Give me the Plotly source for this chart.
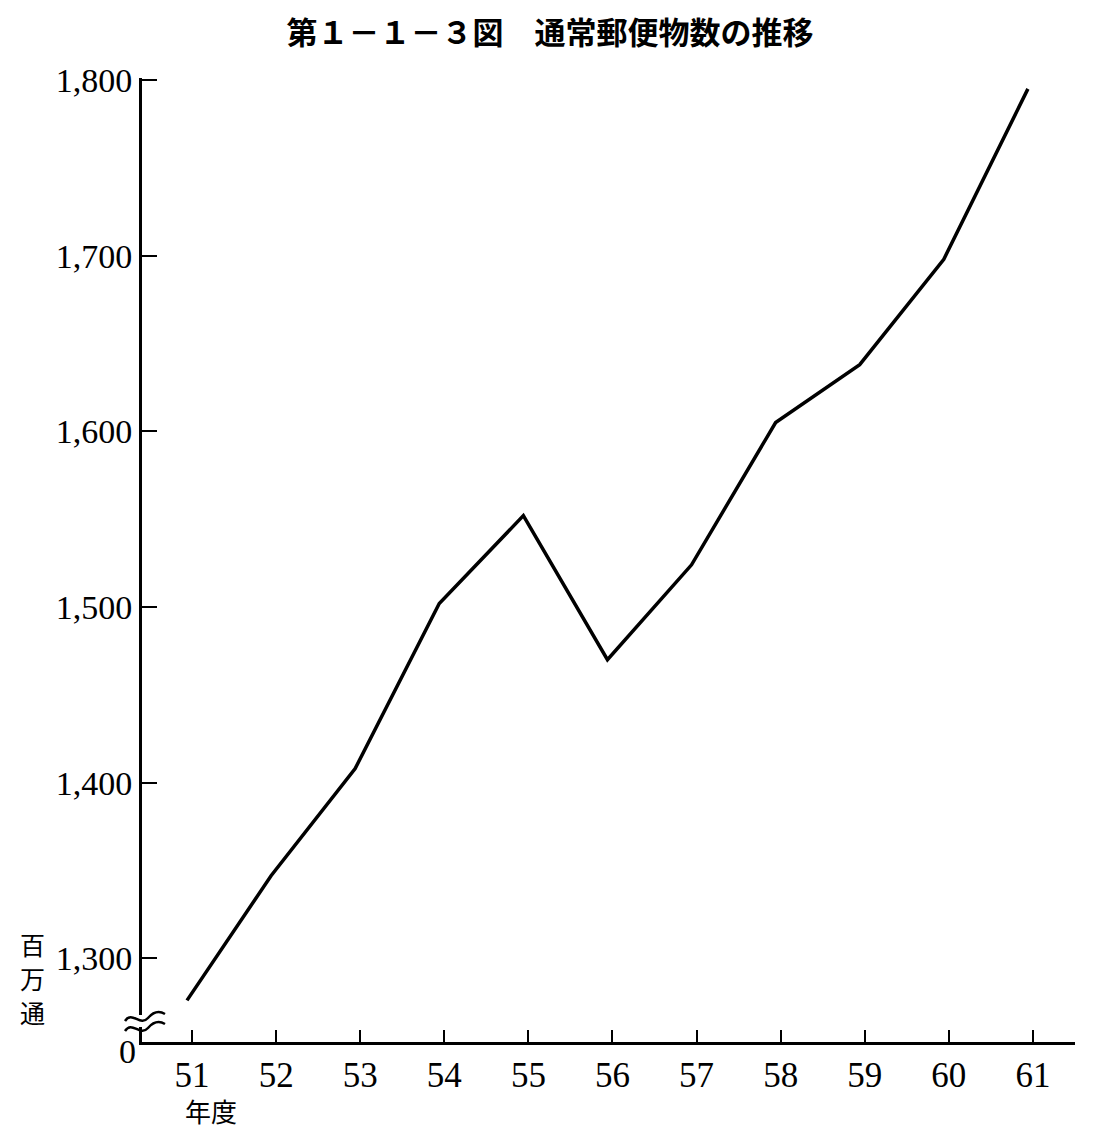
import plotly.graph_objects as go

years = [51, 52, 53, 54, 55, 56, 57, 58, 59, 60, 61]
year_labels = ["51", "52", "53", "54", "55", "56", "57", "58", "59", "60", "61"]
mail_millions = [1276, 1347, 1408, 1502, 1552, 1470, 1524, 1605, 1638, 1698, 1795]
y_ticks = [1300, 1400, 1500, 1600, 1700, 1800]
y_tick_labels = ["1,300", "1,400", "1,500", "1,600", "1,700", "1,800"]
unit_chars = ["百", "万", "通"]

OFF = 8  # page body margin
W, H = 1105 - 2 * OFF, 1141 - 2 * OFF
L, T = 142 - OFF, 78 - OFF
R = W - (1075 - OFF)
B = H - (1042 - OFF)
PW, PH = W - L - R, H - T - B

def px(x):
    return (x - OFF - L) / PW

def py(y):
    return (H - B - (y - OFF)) / PH

fig = go.Figure()
# data line: points sit slightly left of the tick positions
fig.add_trace(go.Scatter(
    x=[v - 0.06 for v in years], y=mail_millions, mode="lines",
    line=dict(color="black", width=3.5), hoverinfo="skip", showlegend=False))

serif = "Liberation Serif, Times New Roman, serif"
cjk = "Noto Sans CJK JP, sans-serif"

fig.update_layout(
    width=W, height=H,
    margin=dict(l=L, r=R, t=T, b=B),
    paper_bgcolor="white", plot_bgcolor="white",
    xaxis=dict(range=[50.405, 61.5], tickvals=years, ticktext=year_labels,
               ticks="inside", ticklen=12, tickwidth=2, tickcolor="black",
               showline=True, linecolor="black", linewidth=3,
               showgrid=False, zeroline=False,
               tickfont=dict(family=serif, size=35, color="black")),
    yaxis=dict(range=[1252.3, 1801.2], tickvals=y_ticks, ticktext=y_tick_labels,
               ticks="inside", ticklen=15, tickwidth=2, tickcolor="black",
               showline=True, linecolor="black", linewidth=3,
               showgrid=False, zeroline=False,
               tickfont=dict(family=serif, size=34, color="black")),
    title=dict(text="第１－１－３図　通常郵便物数の推移", x=(550 - OFF) / W, xanchor="center",
               xref="container", yref="container",
               y=1 - (33 - OFF) / H, yanchor="middle",
               font=dict(family=cjk, size=31, color="black", weight="bold")),
)

# axis break symbol (two wavy lines) with a white gap in the axis
fig.add_shape(type="rect", xref="paper", yref="paper",
              x0=px(136), x1=px(150), y0=py(1027), y1=py(1015),
              fillcolor="white", line=dict(width=0), layer="above")
for dy in (0, 10):
    y0 = 1018 + dy
    path = (f"M {px(125)},{py(y0 + 3)} "
            f"C {px(132)},{py(y0 - 8)} {px(140)},{py(y0 + 9)} {px(148)},{py(y0)} "
            f"C {px(154)},{py(y0 - 7)} {px(160)},{py(y0 - 7)} {px(165)},{py(y0 - 4)}")
    fig.add_shape(type="path", path=path, xref="paper", yref="paper",
                  line=dict(color="black", width=2.5), layer="above")

fig.add_annotation(text="0", xref="paper", yref="paper", x=px(127), y=py(1051),
                   showarrow=False, xanchor="center", yanchor="middle",
                   font=dict(family=serif, size=34, color="black"))
for i, ch in enumerate(unit_chars):
    fig.add_annotation(text=ch, xref="paper", yref="paper", x=px(32), y=py(944 + 34 * i),
                       showarrow=False, xanchor="center", yanchor="middle", borderpad=0,
                       font=dict(family=cjk, size=25, color="black"))
fig.add_annotation(text="年度", xref="paper", yref="paper", x=px(211), y=py(1110),
                   showarrow=False, xanchor="center", yanchor="middle", borderpad=0,
                   font=dict(family=cjk, size=26, color="black"))

fig.write_html("out.html")
